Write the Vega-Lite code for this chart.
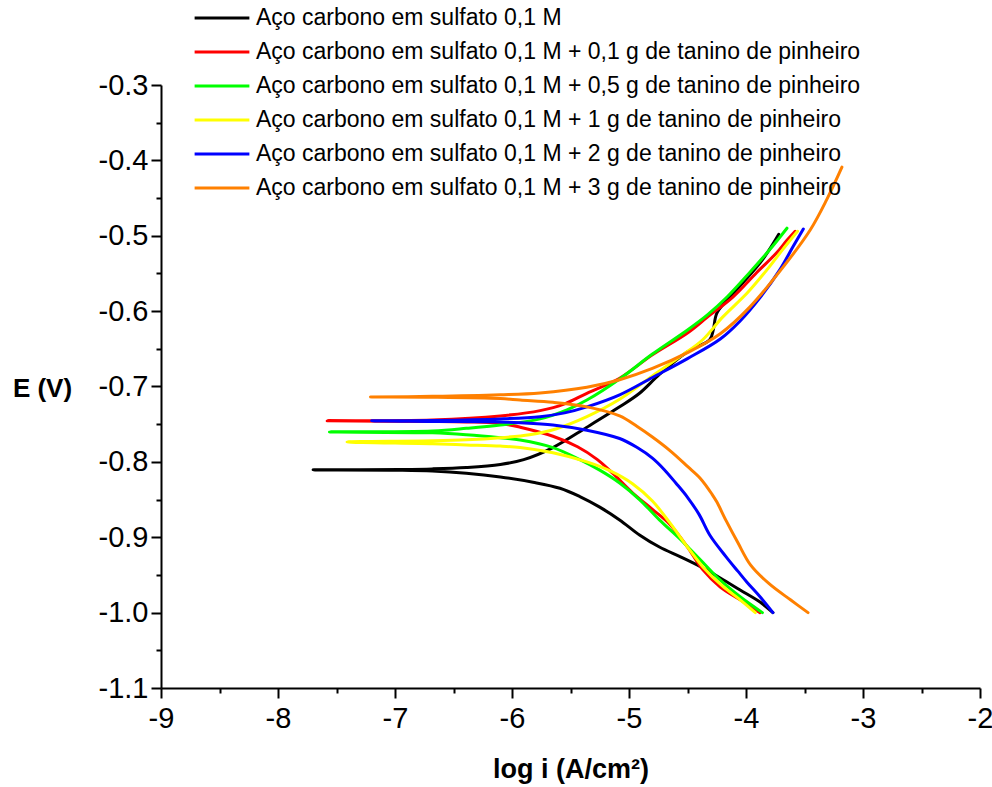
{
 "$schema": "https://vega.github.io/schema/vega-lite/v6.json",
 "width": 819, "height": 603,
 "autosize": {"type": "none"},
 "padding": {"left": 161, "top": 85, "right": 12, "bottom": 99},
 "background": "white",
 "config": {"view": {"stroke": null}, "font": "Liberation Sans"},
 "datasets": {
  "pts": [
   {"s":"Aço carbono em sulfato 0,1 M","k":1,"x":-3.77,"E":-1.0},
   {"s":"Aço carbono em sulfato 0,1 M","k":2,"x":-3.88,"E":-0.986},
   {"s":"Aço carbono em sulfato 0,1 M","k":3,"x":-4.05,"E":-0.970},
   {"s":"Aço carbono em sulfato 0,1 M","k":4,"x":-4.22,"E":-0.954},
   {"s":"Aço carbono em sulfato 0,1 M","k":5,"x":-4.39,"E":-0.939},
   {"s":"Aço carbono em sulfato 0,1 M","k":6,"x":-4.56,"E":-0.926},
   {"s":"Aço carbono em sulfato 0,1 M","k":7,"x":-4.74,"E":-0.913},
   {"s":"Aço carbono em sulfato 0,1 M","k":8,"x":-4.91,"E":-0.897},
   {"s":"Aço carbono em sulfato 0,1 M","k":9,"x":-5.08,"E":-0.877},
   {"s":"Aço carbono em sulfato 0,1 M","k":10,"x":-5.25,"E":-0.860},
   {"s":"Aço carbono em sulfato 0,1 M","k":11,"x":-5.42,"E":-0.846},
   {"s":"Aço carbono em sulfato 0,1 M","k":12,"x":-5.59,"E":-0.835},
   {"s":"Aço carbono em sulfato 0,1 M","k":13,"x":-5.82,"E":-0.827},
   {"s":"Aço carbono em sulfato 0,1 M","k":14,"x":-6.10,"E":-0.820},
   {"s":"Aço carbono em sulfato 0,1 M","k":15,"x":-6.39,"E":-0.815},
   {"s":"Aço carbono em sulfato 0,1 M","k":16,"x":-6.68,"E":-0.812},
   {"s":"Aço carbono em sulfato 0,1 M","k":17,"x":-6.96,"E":-0.811},
   {"s":"Aço carbono em sulfato 0,1 M","k":18,"x":-7.70,"E":-0.8106},
   {"s":"Aço carbono em sulfato 0,1 M","k":19,"x":-6.96,"E":-0.8100},
   {"s":"Aço carbono em sulfato 0,1 M","k":20,"x":-6.68,"E":-0.8093},
   {"s":"Aço carbono em sulfato 0,1 M","k":21,"x":-6.39,"E":-0.8075},
   {"s":"Aço carbono em sulfato 0,1 M","k":22,"x":-6.10,"E":-0.8035},
   {"s":"Aço carbono em sulfato 0,1 M","k":23,"x":-5.90,"E":-0.797},
   {"s":"Aço carbono em sulfato 0,1 M","k":24,"x":-5.65,"E":-0.781},
   {"s":"Aço carbono em sulfato 0,1 M","k":25,"x":-5.36,"E":-0.754},
   {"s":"Aço carbono em sulfato 0,1 M","k":26,"x":-5.08,"E":-0.727},
   {"s":"Aço carbono em sulfato 0,1 M","k":27,"x":-4.91,"E":-0.709},
   {"s":"Aço carbono em sulfato 0,1 M","k":28,"x":-4.74,"E":-0.684},
   {"s":"Aço carbono em sulfato 0,1 M","k":29,"x":-4.50,"E":-0.654},
   {"s":"Aço carbono em sulfato 0,1 M","k":30,"x":-4.31,"E":-0.638},
   {"s":"Aço carbono em sulfato 0,1 M","k":31,"x":-4.28,"E":-0.625},
   {"s":"Aço carbono em sulfato 0,1 M","k":32,"x":-4.25,"E":-0.603},
   {"s":"Aço carbono em sulfato 0,1 M","k":33,"x":-4.16,"E":-0.585},
   {"s":"Aço carbono em sulfato 0,1 M","k":34,"x":-4.03,"E":-0.563},
   {"s":"Aço carbono em sulfato 0,1 M","k":35,"x":-3.86,"E":-0.532},
   {"s":"Aço carbono em sulfato 0,1 M","k":36,"x":-3.72,"E":-0.498},

   {"s":"Aço carbono em sulfato 0,1 M + 0,1 g de tanino de pinheiro","k":1,"x":-3.88,"E":-1.0},
   {"s":"Aço carbono em sulfato 0,1 M + 0,1 g de tanino de pinheiro","k":2,"x":-4.05,"E":-0.983},
   {"s":"Aço carbono em sulfato 0,1 M + 0,1 g de tanino de pinheiro","k":3,"x":-4.22,"E":-0.966},
   {"s":"Aço carbono em sulfato 0,1 M + 0,1 g de tanino de pinheiro","k":4,"x":-4.37,"E":-0.943},
   {"s":"Aço carbono em sulfato 0,1 M + 0,1 g de tanino de pinheiro","k":5,"x":-4.50,"E":-0.913},
   {"s":"Aço carbono em sulfato 0,1 M + 0,1 g de tanino de pinheiro","k":6,"x":-4.65,"E":-0.883},
   {"s":"Aço carbono em sulfato 0,1 M + 0,1 g de tanino de pinheiro","k":7,"x":-4.80,"E":-0.863},
   {"s":"Aço carbono em sulfato 0,1 M + 0,1 g de tanino de pinheiro","k":8,"x":-4.97,"E":-0.841},
   {"s":"Aço carbono em sulfato 0,1 M + 0,1 g de tanino de pinheiro","k":9,"x":-5.14,"E":-0.815},
   {"s":"Aço carbono em sulfato 0,1 M + 0,1 g de tanino de pinheiro","k":10,"x":-5.27,"E":-0.797},
   {"s":"Aço carbono em sulfato 0,1 M + 0,1 g de tanino de pinheiro","k":11,"x":-5.44,"E":-0.780},
   {"s":"Aço carbono em sulfato 0,1 M + 0,1 g de tanino de pinheiro","k":12,"x":-5.65,"E":-0.766},
   {"s":"Aço carbono em sulfato 0,1 M + 0,1 g de tanino de pinheiro","k":13,"x":-5.93,"E":-0.754},
   {"s":"Aço carbono em sulfato 0,1 M + 0,1 g de tanino de pinheiro","k":14,"x":-6.10,"E":-0.749},
   {"s":"Aço carbono em sulfato 0,1 M + 0,1 g de tanino de pinheiro","k":15,"x":-6.39,"E":-0.747},
   {"s":"Aço carbono em sulfato 0,1 M + 0,1 g de tanino de pinheiro","k":16,"x":-6.68,"E":-0.7463},
   {"s":"Aço carbono em sulfato 0,1 M + 0,1 g de tanino de pinheiro","k":17,"x":-7.58,"E":-0.7456},
   {"s":"Aço carbono em sulfato 0,1 M + 0,1 g de tanino de pinheiro","k":18,"x":-6.68,"E":-0.7443},
   {"s":"Aço carbono em sulfato 0,1 M + 0,1 g de tanino de pinheiro","k":19,"x":-6.10,"E":-0.739},
   {"s":"Aço carbono em sulfato 0,1 M + 0,1 g de tanino de pinheiro","k":20,"x":-5.76,"E":-0.732},
   {"s":"Aço carbono em sulfato 0,1 M + 0,1 g de tanino de pinheiro","k":21,"x":-5.55,"E":-0.723},
   {"s":"Aço carbono em sulfato 0,1 M + 0,1 g de tanino de pinheiro","k":22,"x":-5.36,"E":-0.709},
   {"s":"Aço carbono em sulfato 0,1 M + 0,1 g de tanino de pinheiro","k":23,"x":-5.08,"E":-0.689},
   {"s":"Aço carbono em sulfato 0,1 M + 0,1 g de tanino de pinheiro","k":24,"x":-4.80,"E":-0.658},
   {"s":"Aço carbono em sulfato 0,1 M + 0,1 g de tanino de pinheiro","k":25,"x":-4.50,"E":-0.629},
   {"s":"Aço carbono em sulfato 0,1 M + 0,1 g de tanino de pinheiro","k":26,"x":-4.33,"E":-0.608},
   {"s":"Aço carbono em sulfato 0,1 M + 0,1 g de tanino de pinheiro","k":27,"x":-4.11,"E":-0.581},
   {"s":"Aço carbono em sulfato 0,1 M + 0,1 g de tanino de pinheiro","k":28,"x":-3.91,"E":-0.549},
   {"s":"Aço carbono em sulfato 0,1 M + 0,1 g de tanino de pinheiro","k":29,"x":-3.74,"E":-0.523},
   {"s":"Aço carbono em sulfato 0,1 M + 0,1 g de tanino de pinheiro","k":30,"x":-3.65,"E":-0.506},
   {"s":"Aço carbono em sulfato 0,1 M + 0,1 g de tanino de pinheiro","k":31,"x":-3.58,"E":-0.494},

   {"s":"Aço carbono em sulfato 0,1 M + 0,5 g de tanino de pinheiro","k":1,"x":-3.86,"E":-1.0},
   {"s":"Aço carbono em sulfato 0,1 M + 0,5 g de tanino de pinheiro","k":2,"x":-4.05,"E":-0.979},
   {"s":"Aço carbono em sulfato 0,1 M + 0,5 g de tanino de pinheiro","k":3,"x":-4.22,"E":-0.957},
   {"s":"Aço carbono em sulfato 0,1 M + 0,5 g de tanino de pinheiro","k":4,"x":-4.39,"E":-0.930},
   {"s":"Aço carbono em sulfato 0,1 M + 0,5 g de tanino de pinheiro","k":5,"x":-4.56,"E":-0.903},
   {"s":"Aço carbono em sulfato 0,1 M + 0,5 g de tanino de pinheiro","k":6,"x":-4.74,"E":-0.877},
   {"s":"Aço carbono em sulfato 0,1 M + 0,5 g de tanino de pinheiro","k":7,"x":-4.91,"E":-0.850},
   {"s":"Aço carbono em sulfato 0,1 M + 0,5 g de tanino de pinheiro","k":8,"x":-5.08,"E":-0.828},
   {"s":"Aço carbono em sulfato 0,1 M + 0,5 g de tanino de pinheiro","k":9,"x":-5.25,"E":-0.811},
   {"s":"Aço carbono em sulfato 0,1 M + 0,5 g de tanino de pinheiro","k":10,"x":-5.42,"E":-0.797},
   {"s":"Aço carbono em sulfato 0,1 M + 0,5 g de tanino de pinheiro","k":11,"x":-5.65,"E":-0.781},
   {"s":"Aço carbono em sulfato 0,1 M + 0,5 g de tanino de pinheiro","k":12,"x":-5.93,"E":-0.771},
   {"s":"Aço carbono em sulfato 0,1 M + 0,5 g de tanino de pinheiro","k":13,"x":-6.10,"E":-0.768},
   {"s":"Aço carbono em sulfato 0,1 M + 0,5 g de tanino de pinheiro","k":14,"x":-6.39,"E":-0.764},
   {"s":"Aço carbono em sulfato 0,1 M + 0,5 g de tanino de pinheiro","k":15,"x":-6.68,"E":-0.7615},
   {"s":"Aço carbono em sulfato 0,1 M + 0,5 g de tanino de pinheiro","k":16,"x":-7.56,"E":-0.7602},
   {"s":"Aço carbono em sulfato 0,1 M + 0,5 g de tanino de pinheiro","k":17,"x":-6.68,"E":-0.7589},
   {"s":"Aço carbono em sulfato 0,1 M + 0,5 g de tanino de pinheiro","k":18,"x":-6.39,"E":-0.7555},
   {"s":"Aço carbono em sulfato 0,1 M + 0,5 g de tanino de pinheiro","k":19,"x":-6.10,"E":-0.751},
   {"s":"Aço carbono em sulfato 0,1 M + 0,5 g de tanino de pinheiro","k":20,"x":-5.76,"E":-0.743},
   {"s":"Aço carbono em sulfato 0,1 M + 0,5 g de tanino de pinheiro","k":21,"x":-5.53,"E":-0.731},
   {"s":"Aço carbono em sulfato 0,1 M + 0,5 g de tanino de pinheiro","k":22,"x":-5.36,"E":-0.718},
   {"s":"Aço carbono em sulfato 0,1 M + 0,5 g de tanino de pinheiro","k":23,"x":-5.08,"E":-0.690},
   {"s":"Aço carbono em sulfato 0,1 M + 0,5 g de tanino de pinheiro","k":24,"x":-4.80,"E":-0.657},
   {"s":"Aço carbono em sulfato 0,1 M + 0,5 g de tanino de pinheiro","k":25,"x":-4.50,"E":-0.625},
   {"s":"Aço carbono em sulfato 0,1 M + 0,5 g de tanino de pinheiro","k":26,"x":-4.33,"E":-0.605},
   {"s":"Aço carbono em sulfato 0,1 M + 0,5 g de tanino de pinheiro","k":27,"x":-4.16,"E":-0.581},
   {"s":"Aço carbono em sulfato 0,1 M + 0,5 g de tanino de pinheiro","k":28,"x":-3.97,"E":-0.549},
   {"s":"Aço carbono em sulfato 0,1 M + 0,5 g de tanino de pinheiro","k":29,"x":-3.80,"E":-0.519},
   {"s":"Aço carbono em sulfato 0,1 M + 0,5 g de tanino de pinheiro","k":30,"x":-3.65,"E":-0.490},

   {"s":"Aço carbono em sulfato 0,1 M + 1 g de tanino de pinheiro","k":1,"x":-3.92,"E":-1.0},
   {"s":"Aço carbono em sulfato 0,1 M + 1 g de tanino de pinheiro","k":2,"x":-4.05,"E":-0.983},
   {"s":"Aço carbono em sulfato 0,1 M + 1 g de tanino de pinheiro","k":3,"x":-4.20,"E":-0.965},
   {"s":"Aço carbono em sulfato 0,1 M + 1 g de tanino de pinheiro","k":4,"x":-4.37,"E":-0.939},
   {"s":"Aço carbono em sulfato 0,1 M + 1 g de tanino de pinheiro","k":5,"x":-4.50,"E":-0.913},
   {"s":"Aço carbono em sulfato 0,1 M + 1 g de tanino de pinheiro","k":6,"x":-4.65,"E":-0.881},
   {"s":"Aço carbono em sulfato 0,1 M + 1 g de tanino de pinheiro","k":7,"x":-4.80,"E":-0.852},
   {"s":"Aço carbono em sulfato 0,1 M + 1 g de tanino de pinheiro","k":8,"x":-4.97,"E":-0.829},
   {"s":"Aço carbono em sulfato 0,1 M + 1 g de tanino de pinheiro","k":9,"x":-5.16,"E":-0.812},
   {"s":"Aço carbono em sulfato 0,1 M + 1 g de tanino de pinheiro","k":10,"x":-5.36,"E":-0.800},
   {"s":"Aço carbono em sulfato 0,1 M + 1 g de tanino de pinheiro","k":11,"x":-5.65,"E":-0.788},
   {"s":"Aço carbono em sulfato 0,1 M + 1 g de tanino de pinheiro","k":12,"x":-5.93,"E":-0.781},
   {"s":"Aço carbono em sulfato 0,1 M + 1 g de tanino de pinheiro","k":13,"x":-6.10,"E":-0.779},
   {"s":"Aço carbono em sulfato 0,1 M + 1 g de tanino de pinheiro","k":14,"x":-6.39,"E":-0.7775},
   {"s":"Aço carbono em sulfato 0,1 M + 1 g de tanino de pinheiro","k":15,"x":-6.68,"E":-0.7761},
   {"s":"Aço carbono em sulfato 0,1 M + 1 g de tanino de pinheiro","k":16,"x":-7.41,"E":-0.7735},
   {"s":"Aço carbono em sulfato 0,1 M + 1 g de tanino de pinheiro","k":17,"x":-6.68,"E":-0.7721},
   {"s":"Aço carbono em sulfato 0,1 M + 1 g de tanino de pinheiro","k":18,"x":-6.39,"E":-0.7708},
   {"s":"Aço carbono em sulfato 0,1 M + 1 g de tanino de pinheiro","k":19,"x":-6.10,"E":-0.768},
   {"s":"Aço carbono em sulfato 0,1 M + 1 g de tanino de pinheiro","k":20,"x":-5.85,"E":-0.764},
   {"s":"Aço carbono em sulfato 0,1 M + 1 g de tanino de pinheiro","k":21,"x":-5.62,"E":-0.756},
   {"s":"Aço carbono em sulfato 0,1 M + 1 g de tanino de pinheiro","k":22,"x":-5.36,"E":-0.740},
   {"s":"Aço carbono em sulfato 0,1 M + 1 g de tanino de pinheiro","k":23,"x":-5.08,"E":-0.717},
   {"s":"Aço carbono em sulfato 0,1 M + 1 g de tanino de pinheiro","k":24,"x":-4.80,"E":-0.686},
   {"s":"Aço carbono em sulfato 0,1 M + 1 g de tanino de pinheiro","k":25,"x":-4.55,"E":-0.659},
   {"s":"Aço carbono em sulfato 0,1 M + 1 g de tanino de pinheiro","k":26,"x":-4.37,"E":-0.638},
   {"s":"Aço carbono em sulfato 0,1 M + 1 g de tanino de pinheiro","k":27,"x":-4.20,"E":-0.608},
   {"s":"Aço carbono em sulfato 0,1 M + 1 g de tanino de pinheiro","k":28,"x":-3.99,"E":-0.576},
   {"s":"Aço carbono em sulfato 0,1 M + 1 g de tanino de pinheiro","k":29,"x":-3.82,"E":-0.545},
   {"s":"Aço carbono em sulfato 0,1 M + 1 g de tanino de pinheiro","k":30,"x":-3.69,"E":-0.519},
   {"s":"Aço carbono em sulfato 0,1 M + 1 g de tanino de pinheiro","k":31,"x":-3.56,"E":-0.494},

   {"s":"Aço carbono em sulfato 0,1 M + 2 g de tanino de pinheiro","k":1,"x":-3.77,"E":-1.0},
   {"s":"Aço carbono em sulfato 0,1 M + 2 g de tanino de pinheiro","k":2,"x":-3.88,"E":-0.979},
   {"s":"Aço carbono em sulfato 0,1 M + 2 g de tanino de pinheiro","k":3,"x":-3.99,"E":-0.960},
   {"s":"Aço carbono em sulfato 0,1 M + 2 g de tanino de pinheiro","k":4,"x":-4.07,"E":-0.945},
   {"s":"Aço carbono em sulfato 0,1 M + 2 g de tanino de pinheiro","k":5,"x":-4.17,"E":-0.926},
   {"s":"Aço carbono em sulfato 0,1 M + 2 g de tanino de pinheiro","k":6,"x":-4.31,"E":-0.897},
   {"s":"Aço carbono em sulfato 0,1 M + 2 g de tanino de pinheiro","k":7,"x":-4.40,"E":-0.870},
   {"s":"Aço carbono em sulfato 0,1 M + 2 g de tanino de pinheiro","k":8,"x":-4.50,"E":-0.847},
   {"s":"Aço carbono em sulfato 0,1 M + 2 g de tanino de pinheiro","k":9,"x":-4.60,"E":-0.828},
   {"s":"Aço carbono em sulfato 0,1 M + 2 g de tanino de pinheiro","k":10,"x":-4.70,"E":-0.810},
   {"s":"Aço carbono em sulfato 0,1 M + 2 g de tanino de pinheiro","k":11,"x":-4.80,"E":-0.795},
   {"s":"Aço carbono em sulfato 0,1 M + 2 g de tanino de pinheiro","k":12,"x":-4.93,"E":-0.781},
   {"s":"Aço carbono em sulfato 0,1 M + 2 g de tanino de pinheiro","k":13,"x":-5.08,"E":-0.769},
   {"s":"Aço carbono em sulfato 0,1 M + 2 g de tanino de pinheiro","k":14,"x":-5.36,"E":-0.758},
   {"s":"Aço carbono em sulfato 0,1 M + 2 g de tanino de pinheiro","k":15,"x":-5.65,"E":-0.751},
   {"s":"Aço carbono em sulfato 0,1 M + 2 g de tanino de pinheiro","k":16,"x":-5.93,"E":-0.748},
   {"s":"Aço carbono em sulfato 0,1 M + 2 g de tanino de pinheiro","k":17,"x":-6.10,"E":-0.747},
   {"s":"Aço carbono em sulfato 0,1 M + 2 g de tanino de pinheiro","k":18,"x":-6.68,"E":-0.7463},
   {"s":"Aço carbono em sulfato 0,1 M + 2 g de tanino de pinheiro","k":19,"x":-7.20,"E":-0.7456},
   {"s":"Aço carbono em sulfato 0,1 M + 2 g de tanino de pinheiro","k":20,"x":-6.68,"E":-0.7450},
   {"s":"Aço carbono em sulfato 0,1 M + 2 g de tanino de pinheiro","k":21,"x":-6.10,"E":-0.743},
   {"s":"Aço carbono em sulfato 0,1 M + 2 g de tanino de pinheiro","k":22,"x":-5.76,"E":-0.740},
   {"s":"Aço carbono em sulfato 0,1 M + 2 g de tanino de pinheiro","k":23,"x":-5.55,"E":-0.735},
   {"s":"Aço carbono em sulfato 0,1 M + 2 g de tanino de pinheiro","k":24,"x":-5.36,"E":-0.727},
   {"s":"Aço carbono em sulfato 0,1 M + 2 g de tanino de pinheiro","k":25,"x":-5.08,"E":-0.711},
   {"s":"Aço carbono em sulfato 0,1 M + 2 g de tanino de pinheiro","k":26,"x":-4.80,"E":-0.688},
   {"s":"Aço carbono em sulfato 0,1 M + 2 g de tanino de pinheiro","k":27,"x":-4.50,"E":-0.663},
   {"s":"Aço carbono em sulfato 0,1 M + 2 g de tanino de pinheiro","k":28,"x":-4.22,"E":-0.637},
   {"s":"Aço carbono em sulfato 0,1 M + 2 g de tanino de pinheiro","k":29,"x":-4.05,"E":-0.613},
   {"s":"Aço carbono em sulfato 0,1 M + 2 g de tanino de pinheiro","k":30,"x":-3.88,"E":-0.582},
   {"s":"Aço carbono em sulfato 0,1 M + 2 g de tanino de pinheiro","k":31,"x":-3.71,"E":-0.545},
   {"s":"Aço carbono em sulfato 0,1 M + 2 g de tanino de pinheiro","k":32,"x":-3.60,"E":-0.515},
   {"s":"Aço carbono em sulfato 0,1 M + 2 g de tanino de pinheiro","k":33,"x":-3.51,"E":-0.491},

   {"s":"Aço carbono em sulfato 0,1 M + 3 g de tanino de pinheiro","k":1,"x":-3.47,"E":-1.0},
   {"s":"Aço carbono em sulfato 0,1 M + 3 g de tanino de pinheiro","k":2,"x":-3.62,"E":-0.983},
   {"s":"Aço carbono em sulfato 0,1 M + 3 g de tanino de pinheiro","k":3,"x":-3.80,"E":-0.962},
   {"s":"Aço carbono em sulfato 0,1 M + 3 g de tanino de pinheiro","k":4,"x":-3.96,"E":-0.937},
   {"s":"Aço carbono em sulfato 0,1 M + 3 g de tanino de pinheiro","k":5,"x":-4.07,"E":-0.907},
   {"s":"Aço carbono em sulfato 0,1 M + 3 g de tanino de pinheiro","k":6,"x":-4.17,"E":-0.878},
   {"s":"Aço carbono em sulfato 0,1 M + 3 g de tanino de pinheiro","k":7,"x":-4.25,"E":-0.853},
   {"s":"Aço carbono em sulfato 0,1 M + 3 g de tanino de pinheiro","k":8,"x":-4.29,"E":-0.843},
   {"s":"Aço carbono em sulfato 0,1 M + 3 g de tanino de pinheiro","k":9,"x":-4.39,"E":-0.822},
   {"s":"Aço carbono em sulfato 0,1 M + 3 g de tanino de pinheiro","k":10,"x":-4.50,"E":-0.806},
   {"s":"Aço carbono em sulfato 0,1 M + 3 g de tanino de pinheiro","k":11,"x":-4.65,"E":-0.785},
   {"s":"Aço carbono em sulfato 0,1 M + 3 g de tanino de pinheiro","k":12,"x":-4.80,"E":-0.767},
   {"s":"Aço carbono em sulfato 0,1 M + 3 g de tanino de pinheiro","k":13,"x":-4.93,"E":-0.753},
   {"s":"Aço carbono em sulfato 0,1 M + 3 g de tanino de pinheiro","k":14,"x":-5.08,"E":-0.739},
   {"s":"Aço carbono em sulfato 0,1 M + 3 g de tanino de pinheiro","k":15,"x":-5.36,"E":-0.727},
   {"s":"Aço carbono em sulfato 0,1 M + 3 g de tanino de pinheiro","k":16,"x":-5.65,"E":-0.721},
   {"s":"Aço carbono em sulfato 0,1 M + 3 g de tanino de pinheiro","k":17,"x":-5.93,"E":-0.718},
   {"s":"Aço carbono em sulfato 0,1 M + 3 g de tanino de pinheiro","k":18,"x":-6.10,"E":-0.716},
   {"s":"Aço carbono em sulfato 0,1 M + 3 g de tanino de pinheiro","k":19,"x":-6.68,"E":-0.7142},
   {"s":"Aço carbono em sulfato 0,1 M + 3 g de tanino de pinheiro","k":20,"x":-7.21,"E":-0.7138},
   {"s":"Aço carbono em sulfato 0,1 M + 3 g de tanino de pinheiro","k":21,"x":-6.68,"E":-0.7131},
   {"s":"Aço carbono em sulfato 0,1 M + 3 g de tanino de pinheiro","k":22,"x":-6.10,"E":-0.711},
   {"s":"Aço carbono em sulfato 0,1 M + 3 g de tanino de pinheiro","k":23,"x":-5.76,"E":-0.7085},
   {"s":"Aço carbono em sulfato 0,1 M + 3 g de tanino de pinheiro","k":24,"x":-5.36,"E":-0.701},
   {"s":"Aço carbono em sulfato 0,1 M + 3 g de tanino de pinheiro","k":25,"x":-5.08,"E":-0.691},
   {"s":"Aço carbono em sulfato 0,1 M + 3 g de tanino de pinheiro","k":26,"x":-4.80,"E":-0.676},
   {"s":"Aço carbono em sulfato 0,1 M + 3 g de tanino de pinheiro","k":27,"x":-4.50,"E":-0.655},
   {"s":"Aço carbono em sulfato 0,1 M + 3 g de tanino de pinheiro","k":28,"x":-4.22,"E":-0.630},
   {"s":"Aço carbono em sulfato 0,1 M + 3 g de tanino de pinheiro","k":29,"x":-3.97,"E":-0.595},
   {"s":"Aço carbono em sulfato 0,1 M + 3 g de tanino de pinheiro","k":30,"x":-3.68,"E":-0.541},
   {"s":"Aço carbono em sulfato 0,1 M + 3 g de tanino de pinheiro","k":31,"x":-3.45,"E":-0.492},
   {"s":"Aço carbono em sulfato 0,1 M + 3 g de tanino de pinheiro","k":32,"x":-3.31,"E":-0.452},
   {"s":"Aço carbono em sulfato 0,1 M + 3 g de tanino de pinheiro","k":33,"x":-3.18,"E":-0.409}
  ]
 },
 "data": {"name": "pts"},
 "mark": {"type": "line", "strokeWidth": 3, "strokeCap": "round", "strokeJoin": "round", "interpolate": "catmull-rom"},
 "encoding": {
  "x": {
   "field": "x", "type": "quantitative",
   "scale": {"domain": [-9, -2], "nice": false, "zero": false},
   "axis": {
    "values": [-9, -8.5, -8, -7.5, -7, -6.5, -6, -5.5, -5, -4.5, -4, -3.5, -3, -2.5, -2],
    "labelExpr": "datum.value % 1 != 0 ? '' : replace(format(datum.value, 'd'), '\u2212', '-')",
    "tickSize": {"condition": {"test": "datum.value % 1 != 0", "value": 5}, "value": 10},
    "labelOverlap": false, "labelFlush": false,
    "labelFontSize": 29, "labelPadding": 6, "labelColor": "black",
    "domainColor": "black", "domainWidth": 2, "tickColor": "black", "tickWidth": 2,
    "grid": false,
    "title": "log i (A/cm²)", "titleFontSize": 27, "titleFontWeight": "bold", "titleColor": "black",
    "titleY": 81, "titleBaseline": "middle"
   }
  },
  "y": {
   "field": "E", "type": "quantitative",
   "scale": {"domain": [-1.1, -0.3], "nice": false, "zero": false},
   "axis": {
    "values": [-1.1, -1.05, -1.0, -0.95, -0.9, -0.85, -0.8, -0.75, -0.7, -0.65, -0.6, -0.55, -0.5, -0.45, -0.4, -0.35, -0.3],
    "labelExpr": "abs(datum.value*10 - round(datum.value*10)) > 0.01 ? '' : replace(format(datum.value, '.1f'), '\u2212', '-')",
    "tickSize": {"condition": {"test": "abs(datum.value*10 - round(datum.value*10)) > 0.01", "value": 5}, "value": 10},
    "labelOverlap": false, "labelFlush": false,
    "labelFontSize": 29, "labelPadding": 3, "labelColor": "black",
    "domainColor": "black", "domainWidth": 2, "tickColor": "black", "tickWidth": 2,
    "grid": false,
    "title": "E (V)", "titleFontSize": 26, "titleFontWeight": "bold", "titleColor": "black",
    "titleAngle": 0, "titleAlign": "center", "titleBaseline": "middle", "titleX": -119, "titleY": 303
   }
  },
  "color": {
   "field": "s", "type": "nominal",
   "scale": {
    "domain": ["Aço carbono em sulfato 0,1 M", "Aço carbono em sulfato 0,1 M + 0,1 g de tanino de pinheiro", "Aço carbono em sulfato 0,1 M + 0,5 g de tanino de pinheiro", "Aço carbono em sulfato 0,1 M + 1 g de tanino de pinheiro", "Aço carbono em sulfato 0,1 M + 2 g de tanino de pinheiro", "Aço carbono em sulfato 0,1 M + 3 g de tanino de pinheiro"],
    "range": ["#000000", "#ff0000", "#00ff00", "#ffff00", "#0000ff", "#ff8000"]
   },
   "legend": {
    "orient": "none", "legendX": 32, "legendY": -82, "title": null,
    "symbolType": "stroke", "symbolSize": 3000, "symbolStrokeWidth": 3,
    "labelFontSize": 23, "labelLimit": 0, "labelOffset": 5, "labelColor": "black",
    "clipHeight": 30, "rowPadding": 4
   }
  },
  "order": {"field": "k", "type": "quantitative"}
 }
}
